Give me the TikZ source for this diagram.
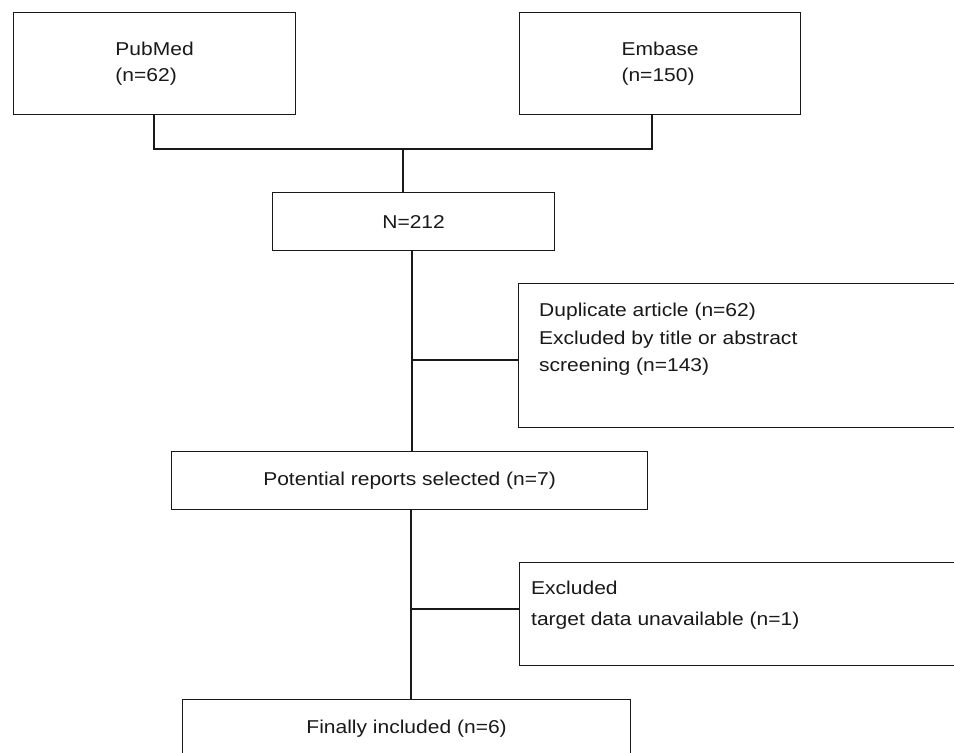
\documentclass[tikz,border=0pt]{standalone}
\usepackage{fontspec}
\setmainfont[FakeStretch=1.13]{Liberation Sans}
\begin{document}
\begin{tikzpicture}[x=1pt,y=-1pt,
  boxshape/.style={draw=black!90, line width=1.2pt, rectangle, inner sep=0pt, anchor=north west, fill=none},
  txt/.style={font=\fontsize{18.6pt}{26pt}\selectfont, text=black!90, inner sep=0pt},
  conn/.style={draw=black!90, line width=1.2pt}]
\clip (0,0) rectangle (954,753);
\fill[white] (0,0) rectangle (954,753);
% boxes
\node[boxshape, minimum width=282pt, minimum height=102pt] (pub) at (13,12) {};
\node[boxshape, minimum width=281pt, minimum height=102pt] (emb) at (519,12) {};
\node[boxshape, minimum width=282pt, minimum height=58pt, txt] (n212) at (272,192) {N=212};
\node[boxshape, minimum width=452pt, minimum height=144pt] (side1) at (518,283) {};
\node[boxshape, minimum width=476pt, minimum height=58pt, txt] (pot) at (171,451) {Potential reports selected (n=7)};
\node[boxshape, minimum width=451pt, minimum height=103pt] (side2) at (519,562) {};
\node[boxshape, minimum width=448pt, minimum height=58pt, txt] (fin) at (182,699) {Finally included (n=6)};
% texts
\node[txt, align=left] (pubT) at (pub.center) {PubMed\\(n=62)};
\node[txt, align=left] (embT) at (emb.center) {Embase\\(n=150)};
\node[txt, align=left, anchor=north west, font=\fontsize{18.6pt}{27.5pt}\selectfont] (side1T) at (539,303) {Duplicate article (n=62)\\Excluded by title or abstract\\screening (n=143)};
\node[txt, align=left, anchor=north west, font=\fontsize{18.6pt}{31.7pt}\selectfont] (side2T) at (531,580.5) {Excluded\\target data unavailable (n=1)};
% connector points
\coordinate (pubS) at (154,114);
\coordinate (embS) at (652,114);
\coordinate (j) at (403,149);
\coordinate (n212S) at (412,250);
\coordinate (potS) at (411,509);
% connectors
\draw[conn] (pubS) |- (j) -| (embS);
\draw[conn] (j) -- (j |- n212.north);
\draw[conn] (n212S) -- (n212S |- pot.north);
\draw[conn] (n212S |- 0,360) -- (side1.west |- 0,360);
\draw[conn] (potS) -- (potS |- fin.north);
\draw[conn] (potS |- 0,609) -- (side2.west |- 0,609);
\end{tikzpicture}
\end{document}
